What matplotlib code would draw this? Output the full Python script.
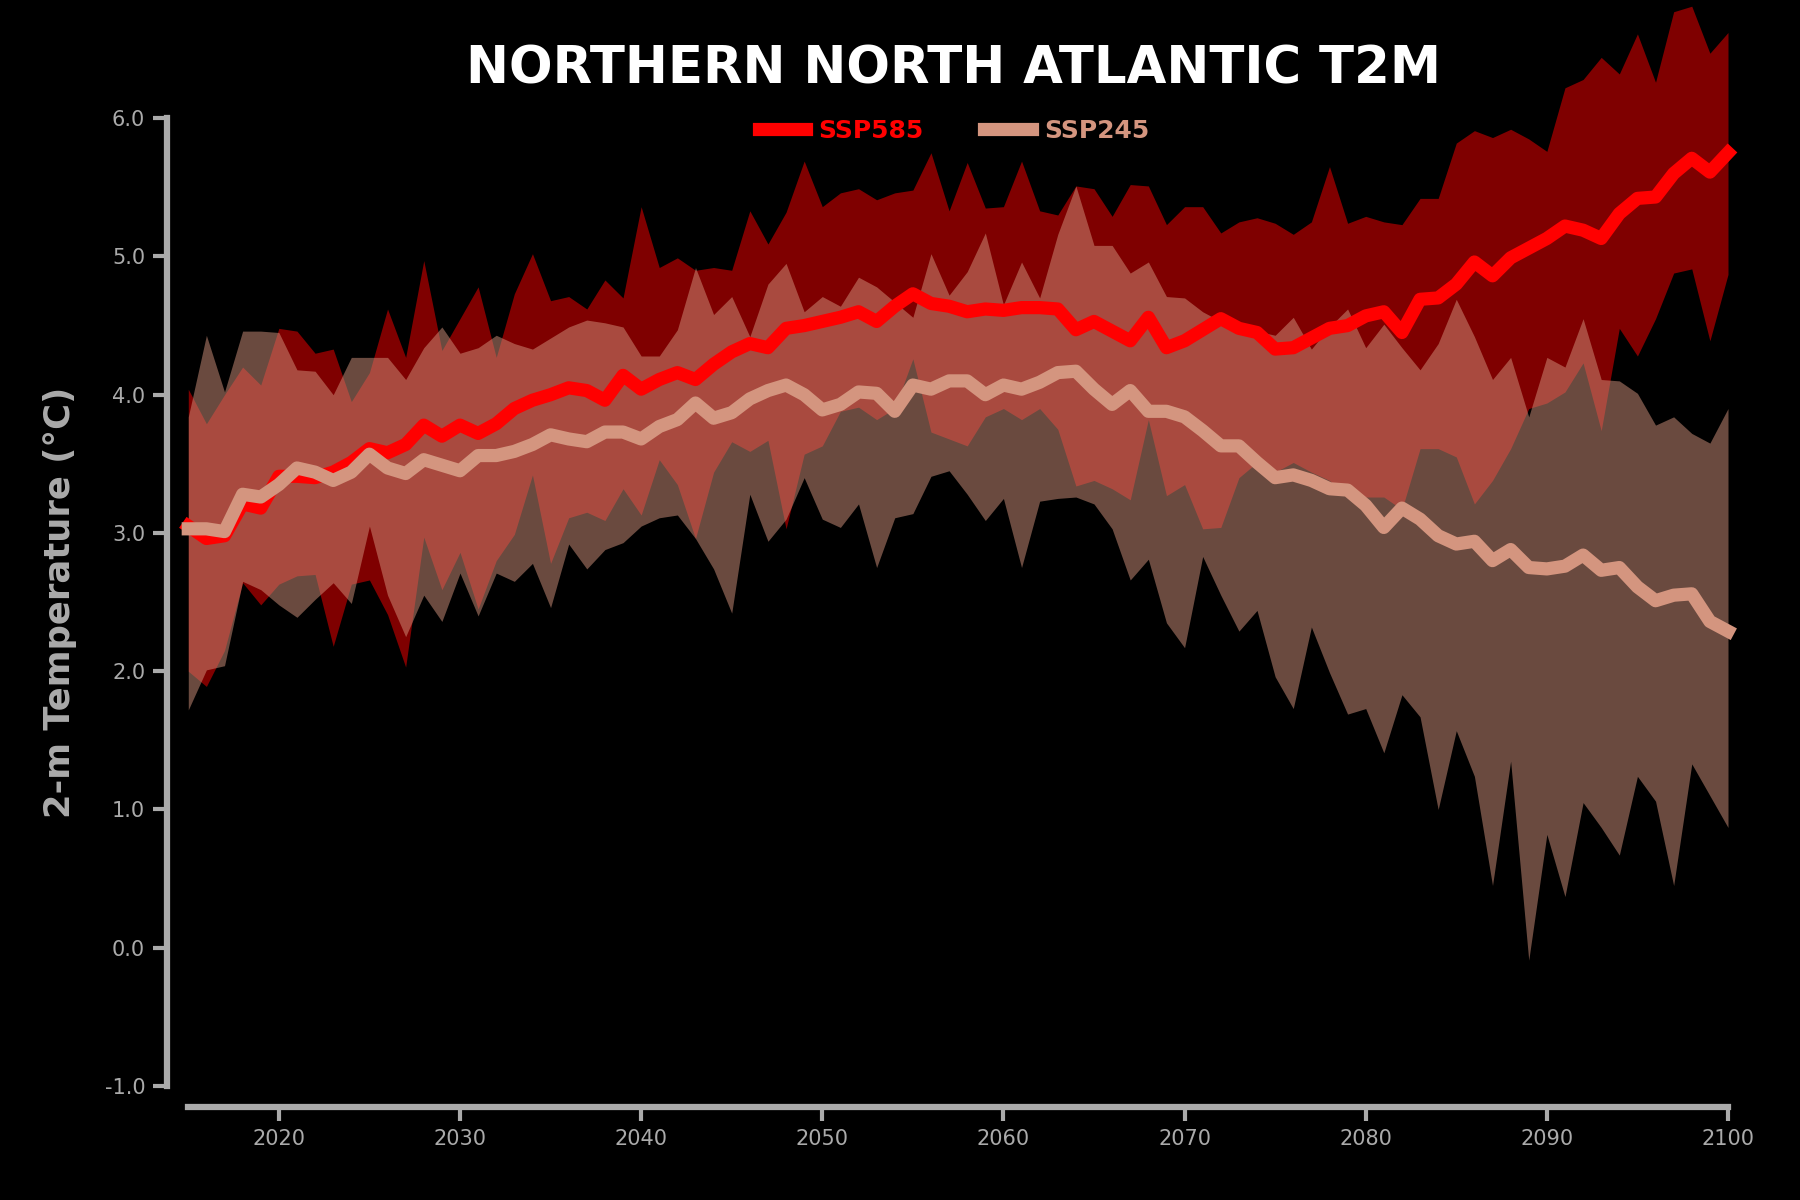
import matplotlib
matplotlib.use('Agg')
import matplotlib.pyplot as plt
import numpy as np

# years of the projection
years = np.arange(2015, 2101)

# SSP585: ensemble mean and spread (deg C)
ssp585_mean = [3.05, 2.96, 2.98, 3.21, 3.18, 3.41, 3.41, 3.40, 3.44, 3.51, 3.61, 3.58, 3.64, 3.78, 3.70, 3.78, 3.72,
               3.79, 3.90, 3.96, 4.00, 4.05, 4.03, 3.96, 4.14, 4.04, 4.11, 4.16, 4.11, 4.22, 4.31, 4.37, 4.34, 4.48,
               4.50, 4.53, 4.56, 4.60, 4.53, 4.64, 4.73, 4.66, 4.64, 4.60, 4.62, 4.61, 4.63, 4.63, 4.62, 4.47, 4.53,
               4.46, 4.39, 4.56, 4.34, 4.39, 4.47, 4.55, 4.48, 4.45, 4.33, 4.34, 4.41, 4.48, 4.50, 4.57, 4.60, 4.45,
               4.69, 4.70, 4.80, 4.96, 4.86, 4.99, 5.06, 5.13, 5.22, 5.19, 5.13, 5.31, 5.42, 5.43, 5.60, 5.71, 5.61, 5.75]
ssp585_upper = [4.04, 3.79, 4.00, 4.20, 4.07, 4.48, 4.46, 4.30, 4.33, 3.95, 4.16, 4.62, 4.27, 4.97, 4.32, 4.55, 4.78,
                4.27, 4.73, 5.02, 4.68, 4.71, 4.62, 4.83, 4.70, 5.36, 4.92, 4.99, 4.90, 4.92, 4.90, 5.33, 5.09, 5.32,
                5.69, 5.36, 5.46, 5.49, 5.41, 5.46, 5.48, 5.75, 5.33, 5.68, 5.35, 5.36, 5.69, 5.33, 5.30, 5.51, 5.49,
                5.29, 5.52, 5.51, 5.23, 5.36, 5.36, 5.17, 5.25, 5.28, 5.24, 5.16, 5.25, 5.65, 5.24, 5.29, 5.25, 5.23,
                5.42, 5.42, 5.82, 5.91, 5.86, 5.92, 5.85, 5.76, 6.22, 6.28, 6.44, 6.32, 6.61, 6.26, 6.77, 6.81, 6.47, 6.62]
ssp585_lower = [2.00, 1.89, 2.15, 2.64, 2.48, 2.63, 2.69, 2.70, 2.18, 2.63, 2.66, 2.41, 2.03, 2.97, 2.59, 2.86, 2.45,
                2.80, 2.99, 3.42, 2.78, 3.11, 3.15, 3.09, 3.32, 3.13, 3.53, 3.35, 2.96, 3.44, 3.66, 3.59, 3.67, 3.03,
                3.57, 3.63, 3.88, 3.91, 3.82, 3.90, 4.26, 3.73, 3.68, 3.63, 3.84, 3.90, 3.82, 3.90, 3.75, 3.34, 3.38,
                3.32, 3.24, 3.82, 3.27, 3.35, 3.03, 3.04, 3.40, 3.51, 3.44, 3.51, 3.44, 3.38, 3.26, 3.26, 3.26, 3.17,
                3.61, 3.61, 3.55, 3.21, 3.38, 3.61, 3.90, 3.94, 4.02, 4.23, 3.74, 4.48, 4.28, 4.55, 4.88, 4.91, 4.39, 4.87]

# SSP245: ensemble mean and spread (deg C)
ssp245_mean = [3.03, 3.03, 3.01, 3.28, 3.26, 3.35, 3.47, 3.44, 3.38, 3.44, 3.57, 3.47, 3.43, 3.53, 3.49, 3.45, 3.56,
               3.56, 3.59, 3.64, 3.71, 3.68, 3.66, 3.73, 3.73, 3.68, 3.77, 3.82, 3.94, 3.83, 3.87, 3.97, 4.03, 4.07,
               4.00, 3.89, 3.93, 4.02, 4.01, 3.88, 4.07, 4.04, 4.10, 4.10, 4.00, 4.07, 4.04, 4.09, 4.16, 4.17, 4.04,
               3.93, 4.03, 3.88, 3.88, 3.84, 3.74, 3.63, 3.63, 3.51, 3.40, 3.42, 3.38, 3.32, 3.31, 3.20, 3.04, 3.18,
               3.10, 2.98, 2.92, 2.94, 2.80, 2.88, 2.75, 2.74, 2.76, 2.84, 2.73, 2.75, 2.61, 2.51, 2.55, 2.56, 2.36, 2.29]
ssp245_upper = [3.84, 4.43, 4.02, 4.46, 4.46, 4.45, 4.18, 4.17, 4.00, 4.27, 4.27, 4.27, 4.11, 4.34, 4.49, 4.30, 4.34,
                4.43, 4.37, 4.33, 4.41, 4.49, 4.54, 4.52, 4.49, 4.28, 4.28, 4.47, 4.92, 4.58, 4.71, 4.42, 4.80, 4.95,
                4.60, 4.71, 4.64, 4.85, 4.78, 4.67, 4.56, 5.02, 4.72, 4.89, 5.17, 4.65, 4.96, 4.70, 5.16, 5.51, 5.08,
                5.08, 4.88, 4.96, 4.71, 4.70, 4.60, 4.53, 4.50, 4.46, 4.43, 4.56, 4.33, 4.49, 4.62, 4.34, 4.51, 4.34,
                4.18, 4.37, 4.69, 4.42, 4.11, 4.27, 3.84, 4.27, 4.20, 4.55, 4.11, 4.10, 4.01, 3.78, 3.84, 3.72, 3.65, 3.90]
ssp245_lower = [1.72, 2.01, 2.04, 2.65, 2.59, 2.48, 2.39, 2.52, 2.64, 2.49, 3.05, 2.55, 2.25, 2.55, 2.36, 2.71, 2.40,
                2.71, 2.65, 2.78, 2.46, 2.92, 2.74, 2.88, 2.93, 3.05, 3.11, 3.13, 2.96, 2.74, 2.42, 3.28, 2.94, 3.10,
                3.40, 3.10, 3.04, 3.21, 2.75, 3.11, 3.14, 3.41, 3.45, 3.28, 3.09, 3.25, 2.75, 3.23, 3.25, 3.26, 3.21,
                3.03, 2.66, 2.81, 2.35, 2.17, 2.83, 2.55, 2.29, 2.44, 1.96, 1.73, 2.32, 1.99, 1.69, 1.73, 1.41, 1.83,
                1.67, 1.00, 1.57, 1.24, 0.45, 1.35, -0.09, 0.82, 0.37, 1.05, 0.87, 0.67, 1.24, 1.06, 0.45, 1.33, 1.10, 0.87]

yticks = [-1.0, 0.0, 1.0, 2.0, 3.0, 4.0, 5.0, 6.0]
xticks = [2020, 2030, 2040, 2050, 2060, 2070, 2080, 2090, 2100]

RED = '#ff0000'
SALMON = '#d4957f'
GREY = '#aaaaaa'

fig = plt.figure(figsize=(18, 12), dpi=100, facecolor='black')
ax = fig.add_axes([0.1046, 0.095, 0.8554, 0.8065], facecolor='black')

# shaded spread, drawn first so the lines sit on top
ax.fill_between(years, ssp585_lower, ssp585_upper, color=RED, alpha=0.5,
                linewidth=0, clip_on=False, zorder=1)
ax.fill_between(years, ssp245_lower, ssp245_upper, color=SALMON, alpha=0.5,
                linewidth=0, clip_on=False, zorder=2)

ax.plot(years, ssp585_mean, color=RED, lw=9.5, label='SSP585',
        solid_capstyle='projecting', clip_on=False, zorder=3)
ax.plot(years, ssp245_mean, color=SALMON, lw=9.5, label='SSP245',
        solid_capstyle='projecting', clip_on=False, zorder=4)

ax.set_xlim(2015, 2100)
ax.set_ylim(-1, 6)

for side in ['top', 'right']:
    ax.spines[side].set_visible(False)
for side in ['left', 'bottom']:
    ax.spines[side].set_color(GREY)
    ax.spines[side].set_linewidth(4.5)
    ax.spines[side].set_position(('outward', 15))
ax.spines['left'].set_bounds(-1, 6)
ax.spines['bottom'].set_bounds(2015, 2100)

ax.set_yticks(yticks)
ax.set_yticklabels(["%.1f" % v for v in yticks])
ax.set_xticks(xticks)
ax.set_xticklabels([str(y) for y in xticks])
ax.tick_params(axis='both', colors=GREY, width=3, length=10,
               labelsize=15, labelcolor=GREY)
ax.tick_params(axis='y', pad=6)
ax.tick_params(axis='x', pad=6)

ax.set_ylabel('2-m Temperature (°C)', color=GREY, fontsize=25.5,
              fontweight='bold', labelpad=20)

fig.text(0.53, 0.9425, 'NORTHERN NORTH ATLANTIC T2M', color='white',
         fontsize=37, fontweight='bold', ha='center', va='center')

leg = ax.legend(loc='center', bbox_to_anchor=(0.53, 0.891),
                bbox_transform=fig.transFigure, ncol=2, frameon=False,
                handlelength=1.9, handletextpad=0.5, columnspacing=2.4,
                prop={'size': 18, 'weight': 'bold'})
for text, line in zip(leg.get_texts(), leg.get_lines()):
    text.set_color(line.get_color())

fig.savefig('out.png', dpi=100, facecolor='black')
